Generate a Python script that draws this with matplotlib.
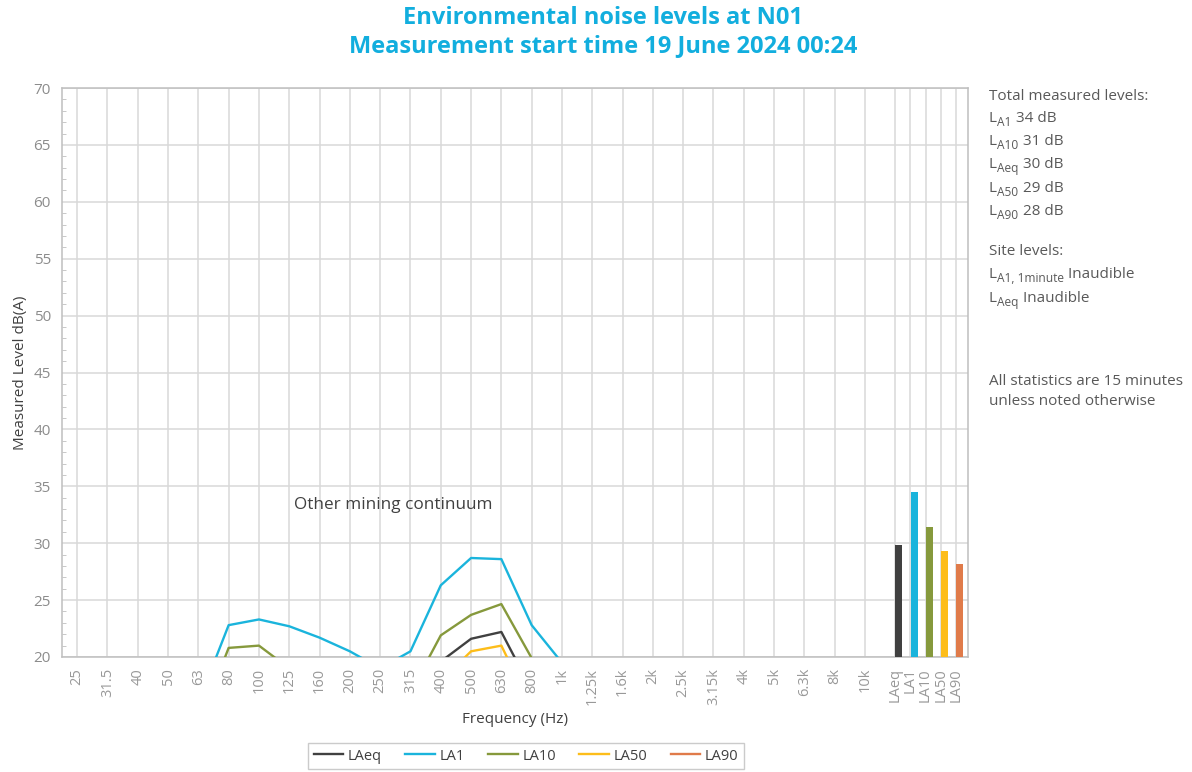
import matplotlib.pyplot as plt
from matplotlib.ticker import MultipleLocator

plt.rcParams['font.family'] = ['Open Sans', 'DejaVu Sans']

# one-third octave bands
bands = ['25', '31.5', '40', '50', '63', '80', '100', '125', '160', '200', '250',
         '315', '400', '500', '630', '800', '1k', '1.25k', '1.6k', '2k', '2.5k',
         '3.15k', '4k', '5k', '6.3k', '8k', '10k']

# spectra (values below 20 are off the chart)
laeq = [8, 8, 8, 9, 12, 17, 17.5, 16, 15, 14, 13, 15, 19.6, 21.6, 22.2, 17.1,
        14, 11, 9, 8, 7, 6, 5, 4, 4, 3, 3]
la1 = [12, 11, 11, 13, 16.0, 22.8, 23.3, 22.7, 21.7, 20.5, 19.0, 20.5, 26.3,
       28.7, 28.6, 22.8, 19.5, 16, 14, 12, 10, 9, 8, 7, 6, 5, 5]
la10 = [10, 9, 9, 11, 14, 20.8, 21.0, 19.0, 17, 16, 15, 16.9, 21.9, 23.7, 24.65,
        19.9, 16, 13, 11, 9, 8, 7, 6, 5, 5, 4, 4]
la50 = [6, 6, 6, 7, 10, 15, 15.5, 14, 13, 12, 11, 13, 17.9, 20.5, 21.0, 15.5,
        12, 9, 7, 6, 5, 4, 4, 3, 3, 2, 2]
la90 = [4, 4, 4, 5, 8, 13, 13.5, 12, 11, 10, 9, 11, 15.5, 18.5, 19, 14.5,
        10, 7, 5, 4, 3, 3, 2, 2, 2, 1, 1]

# overall levels
stat_names = ['LAeq', 'LA1', 'LA10', 'LA50', 'LA90']
stat_values = [29.8, 34.5, 31.4, 29.3, 28.2]

colors = {'LAeq': '#404040', 'LA1': '#1ab4dc', 'LA10': '#86993c',
          'LA50': '#fdbd1a', 'LA90': '#e07b4a'}

fig = plt.figure(figsize=(11.92, 7.72), dpi=100)
ax = fig.add_axes([62 / 1192, 1 - 657 / 772, (968 - 62) / 1192, (657 - 88) / 772])

x = list(range(len(bands)))
series = [('LAeq', laeq), ('LA1', la1), ('LA10', la10), ('LA50', la50), ('LA90', la90)]
for name, vals in series:
    ax.plot(x, vals, color=colors[name], lw=1.7, label=name, zorder=3)

stat_x = [len(bands) + 0.5 * i for i in range(len(stat_names))]
ax.bar([p + 0.12 for p in stat_x], stat_values, width=0.23, bottom=0,
       color=[colors[n] for n in stat_names], zorder=3)

ax.set_xlim(-0.5, 29.4)
ax.set_ylim(20, 70)
ax.set_xticks(x + stat_x)
ax.set_xticklabels(bands + stat_names, rotation=90, fontsize=10.5, color='#999999')
ax.yaxis.set_major_locator(MultipleLocator(5))
ax.yaxis.set_minor_locator(MultipleLocator(1))
ax.tick_params(axis='y', labelsize=11, labelcolor='#8c8c8c', length=0, pad=8)
ax.tick_params(axis='y', which='minor', direction='in', length=3, color='#bfbfbf')
ax.tick_params(axis='x', length=0, pad=8)
ax.grid(True, color='#d9d9d9', lw=1.1, zorder=0)
for s in ax.spines.values():
    s.set_color('#bfbfbf')
    s.set_linewidth(1.1)

ax.set_xlabel('Frequency (Hz)', fontsize=11, color='#404040', labelpad=5)
ax.set_ylabel('Measured Level dB(A)', fontsize=11, color='#404040')
ax.yaxis.set_label_coords((28 - 62) / 906, 0.5)

ax.text(10.43, 33.4, 'Other mining continuum', fontsize=12.3, color='#404040',
        ha='center', va='center')

fig.text(603 / 1192, 1 - 18 / 772, 'Environmental noise levels at N01',
         fontsize=17, fontweight='bold', color='#12aede', ha='center', va='center')
fig.text(603 / 1192, 1 - 46 / 772, 'Measurement start time 19 June 2024 00:24',
         fontsize=17, fontweight='bold', color='#12aede', ha='center', va='center')

# side notes: (y pixel, main text, subscript, rest)
side = [
    (100, 'Total measured levels:', '', ''),
    (122, 'L', 'A1', ' 34 dB'),
    (145, 'L', 'A10', ' 31 dB'),
    (168, 'L', 'Aeq', ' 30 dB'),
    (192, 'L', 'A50', ' 29 dB'),
    (215, 'L', 'A90', ' 28 dB'),
    (255, 'Site levels:', '', ''),
    (278, 'L', 'A1, 1minute', ' Inaudible'),
    (302, 'L', 'Aeq', ' Inaudible'),
    (385, 'All statistics are 15 minutes', '', ''),
    (405, 'unless noted otherwise', '', ''),
]
txt_color = '#595959'
for ypix, main, sub, rest in side:
    t = fig.text(989 / 1192, 1 - ypix / 772, main, fontsize=11, color=txt_color,
                 ha='left', va='baseline')
    if sub:
        s = ax.annotate(sub, xy=(1, 0), xycoords=t, xytext=(0.3, -2.2),
                        textcoords='offset points', fontsize=8.6, color=txt_color,
                        ha='left', va='bottom')
        ax.annotate(rest, xy=(1, 0), xycoords=(s, t), xytext=(0, 0),
                    textcoords='offset points', fontsize=11, color=txt_color,
                    ha='left', va='bottom')

leg = fig.legend(loc='center', bbox_to_anchor=(526 / 1192, 1 - 756 / 772),
                 ncol=5, frameon=True, fancybox=False, fontsize=10.5,
                 handlelength=2.05, columnspacing=1.6, handletextpad=0.3,
                 borderpad=0.35)
leg.get_frame().set_edgecolor('#bfbfbf')
leg.get_frame().set_linewidth(1.0)
for t in leg.get_texts():
    t.set_color('#404040')

fig.savefig('out.png', dpi=100)
